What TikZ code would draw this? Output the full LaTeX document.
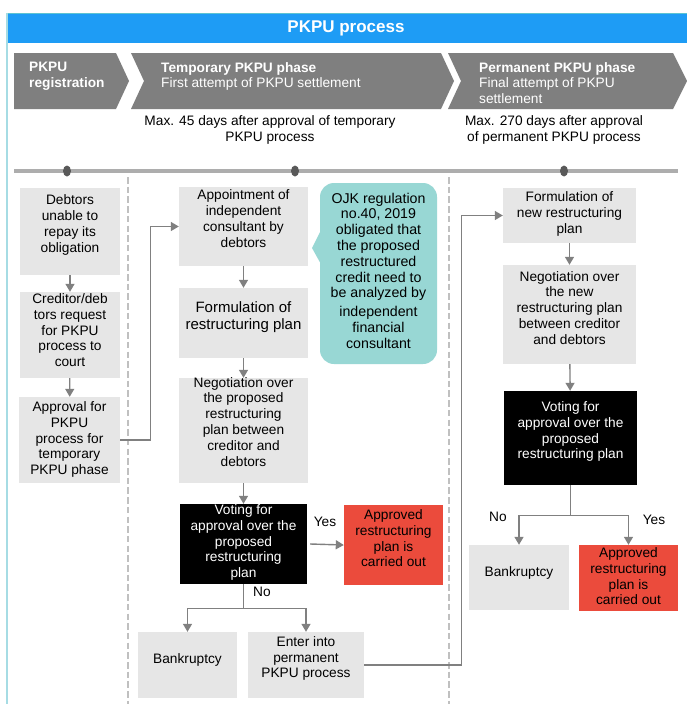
\documentclass[tikz,border=0pt]{standalone}
\usepackage{fontspec}
\setmainfont{Liberation Sans}
\usetikzlibrary{arrows.meta}
\definecolor{hdrblue}{HTML}{1E9CF5}
\definecolor{hdrtop}{HTML}{5CC3D2}
\definecolor{chevc}{HTML}{7F7F7F}
\definecolor{boxgray}{HTML}{E6E6E6}
\definecolor{mytealc}{HTML}{98D7D4}
\definecolor{redbox}{HTML}{EB4B3C}
\definecolor{arrc}{HTML}{808080}
\definecolor{tlinec}{HTML}{ADADAD}
\definecolor{dotc}{HTML}{595959}
\definecolor{dashc}{HTML}{C0C0C0}
\definecolor{framec}{HTML}{A6DCE4}
\newcommand\upby[2]{\raisebox{#1pt}[\height][\depth]{\begin{tabular}{@{}c@{}}#2\end{tabular}}}
\tikzset{
  txt/.style={font=\fontsize{13.7}{15.8}\selectfont, align=center, inner sep=0pt},
  gbox/.style={txt, fill=boxgray, text=black},
  kbox/.style={txt, fill=black, text=white},
  rbox/.style={txt, fill=redbox, text=black},
  cbox/.style={txt, fill=mytealc, text=black, rounded corners=14pt},
  flow/.style={draw=arrc, line width=1.4pt, -{Triangle[width=9pt,length=8pt]}},
  conn/.style={draw=arrc, line width=1.4pt},
  chevtxt/.style={font=\fontsize{13.7}{15.8}\selectfont, align=left, inner sep=0pt, text=white, anchor=north west},
  wh/.style 2 args={minimum width=#1pt, minimum height=#2pt},
  dashv/.style={dashc, line width=2pt, dash pattern=on 6.5pt off 3.2pt},
}
\begin{document}
\begin{tikzpicture}[x=1pt,y=-1pt]
\useasboundingbox (0,0) rectangle (687,704);
\fill[white] (0,0) rectangle (687,704);
% header
\fill[hdrblue] (7,13) rectangle (687,43);
\draw[hdrtop, line width=1pt] (7,13.5) -- (687,13.5);
\draw[framec, line width=1.5pt] (7,13) -- (7,704);
\node[font=\fontsize{17}{20}\selectfont\bfseries, text=white, inner sep=0pt] (title) at (346,28) {PKPU process};
% chevrons
\fill[chevc] (14,53) -- (116,53) -- (129,81) -- (116,109) -- (14,109) -- cycle;
\fill[chevc] (131,53) -- (441,53) -- (454,81) -- (441,109) -- (131,109) -- (144,81) -- cycle;
\fill[chevc] (448,53) -- (673,53) -- (687,81) -- (673,109) -- (448,109) -- (461,81) -- cycle;
\node[chevtxt, font=\fontsize{13.7}{15.8}\selectfont\bfseries] (ph1) at (29,62) {PKPU\\registration};
\node[chevtxt] (ph2) at (161,62) {\textbf{Temporary PKPU phase}\\First attempt of PKPU settlement};
\node[chevtxt] (ph3) at (479,62) {\textbf{Permanent PKPU phase}\\Final attempt of PKPU\\settlement};
% durations
\node[txt] (d1) at (270,130) {Max. 45 days after approval of temporary\\PKPU process};
\node[txt] (d2) at (554,130) {Max. 270 days after approval\\of permanent PKPU process};
% timeline
\draw[tlinec, line width=4pt] (14,171) -- (678,171);
\fill[dotc] (67,171) ellipse (4 and 5.5);
\fill[dotc] (295,171) ellipse (4 and 5.5);
\fill[dotc] (564,171) ellipse (4 and 5.5);
\draw[dashv] (128,177) -- (128,704);
\draw[dashv] (449,177) -- (449,704);
% column 1
\node[gbox, wh={100}{87}] (b1) at (70,231.5) {\upby{6}{Debtors\\unable to\\repay its\\obligation}};
\node[gbox, wh={100}{86}] (b2) at (70,335) {\upby{3}{Creditor/deb\\tors request\\for PKPU\\process to\\court}};
\node[gbox, wh={101}{86}] (b3) at (69.5,440) {\upby{0}{Approval for\\PKPU\\process for\\temporary\\PKPU phase}};
% column 2
\node[gbox, wh={129}{79}] (a1) at (243.5,226.5) {\upby{6}{Appointment of\\independent\\consultant by\\debtors}};
\node[gbox, wh={129}{70}, font=\fontsize{15}{17}\selectfont] (a2) at (243.5,323) {\upby{5}{Formulation of\\restructuring plan}};
\node[gbox, wh={129}{105}] (a3) at (243.5,430.5) {\upby{7}{Negotiation over\\the proposed\\restructuring\\plan between\\creditor and\\debtors}};
\node[kbox, wh={127}{80}] (a4) at (243.5,544) {\upby{1}{Voting for\\approval over the\\proposed\\restructuring\\plan}};
\node[rbox, wh={99}{80}] (a5) at (393.5,545) {\upby{5}{Approved\\restructuring\\plan is\\carried out}};
\node[gbox, wh={99}{66}] (a6) at (187.5,665) {\upby{5}{Bankruptcy}};
\node[gbox, wh={116}{66}] (a7) at (306,665) {\upby{6}{Enter into\\permanent\\PKPU process}};
% callout
\fill[mytealc] (322,228) -- (312,248) -- (322,266) -- cycle;
\node[cbox, wh={117}{181}, font=\fontsize{14.2}{15.8}\selectfont] (note) at (378.5,273.5) {\upby{1}{OJK regulation\\no.40, 2019\\obligated that\\the proposed\\restructured\\credit need to\\be analyzed by\\[3pt]independent\\financial\\consultant}};
% column 3
\node[gbox, wh={133}{55}] (c1) at (569.5,215.5) {\upby{1}{Formulation of\\new restructuring\\plan}};
\node[gbox, wh={133}{99}] (c2) at (569.5,314.5) {\upby{5}{Negotiation over\\the new\\restructuring plan\\between creditor\\and debtors}};
\node[kbox, wh={133}{94}] (c3) at (570.5,438) {\upby{6}{Voting for\\approval over the\\proposed\\restructuring plan}};
\node[gbox, wh={100}{65}] (c4) at (519,577.5) {\upby{4}{Bankruptcy}};
\node[rbox, wh={99}{66}] (c5) at (628.5,578) {\upby{0}{Approved\\restructuring\\plan is\\carried out}};
% connectors column 1
\draw[flow] (b1) -- (b2);
\draw[flow] (b2) -- (b3);
\draw[flow] (b3.east) -- ++(30,0) |- (a1.west);
% connectors column 2
\draw[flow] (a1) -- (a2);
\draw[flow] (a2) -- (a3);
\draw[flow] (a3) -- (a4);
\draw[flow] ([xshift=3pt]a4.east) -- (a5.west);
\node[txt] (yes1) at (325,522) {Yes};
\draw[conn] (a4.south) -- ++(0,24) coordinate (g1);
\draw[flow] (g1) -| (a6.north);
\draw[flow] (g1) -| (a7.north);
\node[txt] (no1) at (262,592) {No};
\draw[flow] (a7.east) -- ++(97,0) |- (c1.west);
% connectors column 3
\draw[flow] (c1) -- (c2);
\draw[flow] (c2) -- (c3);
\draw[conn] (c3.south) -- ++(0,30) coordinate (g2);
\draw[flow] (g2) -| (c4.north);
\draw[flow] (g2) -| (c5.north);
\node[txt] (no2) at (498,517) {No};
\node[txt] (yes2) at (654,520) {Yes};
\end{tikzpicture}
\end{document}
